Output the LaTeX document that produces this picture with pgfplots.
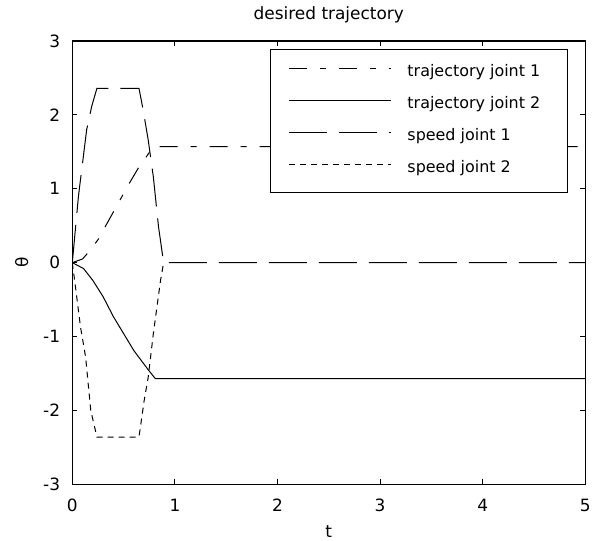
\documentclass[border=0pt]{standalone}
\usepackage{pgfplots}
\pgfplotsset{compat=1.18}
\usepackage{fontspec}
\setmainfont{DejaVu Sans}
\begin{document}
\begin{tikzpicture}
\path[use as bounding box] (-72.3bp,-56.7bp) rectangle (520.7bp,484.3bp);
\begin{axis}[
  at={(0,0)}, anchor=south west,
  scale only axis, width=513bp, height=443.3bp,
  xmin=0, xmax=5, ymin=-3, ymax=3,
  xtick={0,1,2,3,4,5}, ytick={-3,-2,-1,0,1,2,3},
  xticklabels={0,1,2,3,4,5},
  yticklabels={-3,-2,-1,0,1,2,3},
  tick align=inside, major tick length=5bp,
  tick pos=both,
  axis line style={line width=1.1bp},
  every tick/.style={black, line width=1bp},
  tick label style={font=\fontsize{17}{20}\selectfont},
  xticklabel style={anchor=base, inner sep=0pt, yshift=-27.4bp},
  yticklabel style={anchor=east, inner sep=0pt, xshift=-12bp},
  title={desired trajectory},
  title style={at={(0.5,1)}, anchor=base, inner sep=0pt, yshift=16bp, font=\fontsize{17}{20}\selectfont},
  xlabel={t},
  xlabel style={at={(0.5,0)}, anchor=base, inner sep=0pt, yshift=-52.7bp, font=\fontsize{17}{20}\selectfont},
  ylabel={θ},
  every axis y label/.style={at={(0,0.5)}, anchor=center, rotate=90, inner sep=0pt, yshift=50.6bp, font=\fontsize{17}{20}\selectfont},
  legend style={at={(1,1)}, anchor=north east, xshift=-17.3bp, yshift=-8.3bp,
    draw=black, line width=1.1bp, inner xsep=18bp, inner ysep=16bp, row sep=17bp,
    font=\fontsize{16}{19}\selectfont,
    nodes={inner sep=0pt, text height=11bp, text depth=4bp},
    /tikz/every odd column/.style={column sep=16bp}},
  legend cell align=left,
  legend image code/.code={\draw[#1] (0bp,4.5bp) -- (102bp,4.5bp);},
]
\addplot[black, line width=1bp, dash pattern=on 18bp off 13bp on 6bp off 13bp] coordinates {
(0,0) (0.1,0.05) (0.17,0.16) (0.25,0.31) (0.37,0.61) (0.55,1.06) (0.66,1.32) (0.72,1.43) (0.76,1.51) (0.8,1.5708) (5,1.5708)};
\addlegendentry{\makebox[142bp][l]{trajectory joint 1}}
\addplot[black, line width=1bp] coordinates {
(0,0) (0.11,-0.08) (0.2,-0.24) (0.3,-0.46) (0.4,-0.73) (0.6,-1.19) (0.74,-1.45) (0.81,-1.5708) (5,-1.5708)};
\addlegendentry{\makebox[142bp][l]{trajectory joint 2}}
\addplot[black, line width=1bp, dash pattern=on 38bp off 12bp] coordinates {
(0,0) (0.06,0.9) (0.14,1.8) (0.19,2.12) (0.24,2.36) (0.65,2.36) (0.69,2.07) (0.74,1.66) (0.79,1.16) (0.84,0.49) (0.89,0) (5,0)};
\addlegendentry{\makebox[142bp][l]{speed joint 1}}
\addplot[black, line width=1bp, dash pattern=on 6bp off 5bp] coordinates {
(0,0) (0.03,-0.32) (0.08,-0.87) (0.13,-1.28) (0.18,-2.0) (0.24,-2.36) (0.65,-2.36) (0.70,-1.87) (0.74,-1.55) (0.79,-0.96) (0.86,-0.24) (0.89,0)};
\addlegendentry{\makebox[142bp][l]{speed joint 2}}
\end{axis}
\end{tikzpicture}
\end{document}
